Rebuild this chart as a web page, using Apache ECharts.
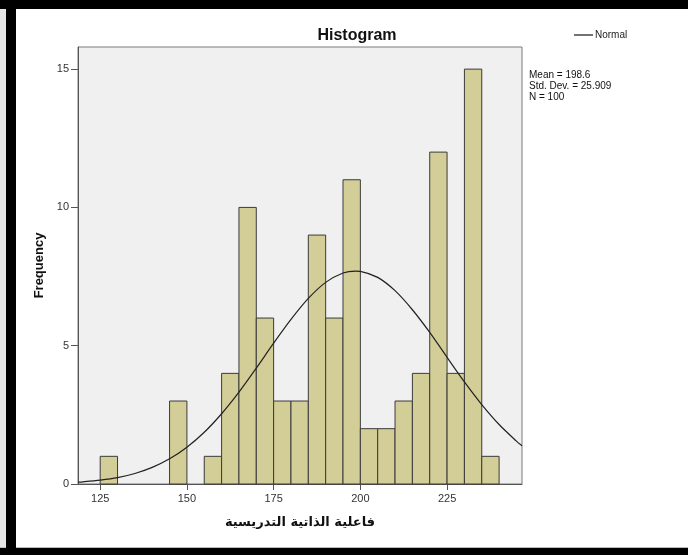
<!doctype html>
<html>
<head>
<meta charset="utf-8">
<script src="https://cdn.jsdelivr.net/npm/echarts@6/dist/echarts.min.js"></script>
<style>
  html, body { margin: 0; padding: 0; background: #fff; }
  #main { width: 688px; height: 555px; }
</style>
</head>
<body>
<div id="main"></div>
<script>
// bin lower edges (width 5) and counts
var binStarts = [125, 130, 135, 140, 145, 150, 155, 160, 165, 170, 175, 180,
                 185, 190, 195, 200, 205, 210, 215, 220, 225, 230, 235];
var binWidth = 5;
var counts = [1, 0, 0, 0, 3, 0, 1, 4, 10, 6, 3, 3,
              9, 6, 11, 2, 2, 3, 4, 12, 4, 15, 1];

// normal curve
var curveX = [118.6, 120, 125, 130, 135, 140, 145, 150, 155, 160, 165, 170, 175,
              180, 185, 190, 195, 198.6, 200, 205, 210, 215, 220, 225, 230, 235,
              240, 245, 246.6];
var curveY = [0.07, 0.08, 0.14, 0.23, 0.38, 0.60, 0.91, 1.33, 1.87, 2.54, 3.32, 4.19, 5.09,
              5.95, 6.71, 7.29, 7.63, 7.70, 7.69, 7.47, 6.99, 6.30, 5.48, 4.58, 3.69, 2.87,
              2.15, 1.55, 1.38];

var xTicks = [125, 150, 175, 200, 225];
var yTicks = [0, 5, 10, 15];
var statsText = ['Mean = 198.6', 'Std. Dev. = 25.909', 'N = 100'];

var barData = binStarts.map(function (s, i) { return [s, s + binWidth, counts[i]]; });
var lineData = curveX.map(function (x, i) { return [x, curveY[i]]; });

var chart = echarts.init(document.getElementById('main'));
var latin = 'Liberation Sans, Arial, sans-serif';

chart.setOption({
  animation: false,
  backgroundColor: '#fff',
  title: {
    text: 'Histogram',
    left: 352,
    top: 23,
    textAlign: 'center',
    textStyle: { fontFamily: latin, fontSize: 16, fontWeight: 'bold', color: '#111' }
  },
  legend: {
    data: [{ name: 'Normal', icon: 'rect' }],
    left: 569,
    top: 25,
    itemWidth: 19,
    itemHeight: 1.5,
    itemGap: 2,
    itemStyle: { color: '#444' },
    textStyle: { fontFamily: latin, fontSize: 10, color: '#222', padding: [0, 0, 0, -3] }
  },
  grid: {
    left: 78, top: 47, right: 166, bottom: 71,
    show: true, backgroundColor: '#f0f0f0', borderColor: '#7a7a7a', borderWidth: 1
  },
  xAxis: {
    type: 'value',
    min: 118.6,
    max: 246.6,
    interval: 25,
    name: 'فاعلية الذاتية التدريسية',
    nameLocation: 'middle',
    nameGap: 32,
    nameTextStyle: { fontFamily: 'DejaVu Sans, Noto Sans, sans-serif', fontSize: 13, fontWeight: 'bold', color: '#111' },
    splitLine: { show: false },
    axisLine: { lineStyle: { color: '#555', width: 1 } },
    axisTick: { customValues: xTicks, length: 6, lineStyle: { color: '#555' } },
    axisLabel: { customValues: xTicks, fontFamily: latin, fontSize: 11, color: '#333', margin: 9 }
  },
  yAxis: {
    type: 'value',
    min: 0,
    max: 15.8,
    interval: 5,
    name: 'Frequency',
    nameLocation: 'middle',
    nameGap: 30,
    nameTextStyle: { fontFamily: latin, fontSize: 13, fontWeight: 'bold', color: '#111' },
    splitLine: { show: false },
    axisLine: { show: true, lineStyle: { color: '#555', width: 1 } },
    axisTick: { show: true, customValues: yTicks, length: 7, lineStyle: { color: '#555' } },
    axisLabel: { customValues: yTicks, fontFamily: latin, fontSize: 11, color: '#333', margin: 9 }
  },
  graphic: [
    { type: 'rect', shape: { x: 0, y: 0, width: 6, height: 555 }, style: { fill: '#e6e6e6' }, z: 100 },
    { type: 'rect', shape: { x: 6, y: 0, width: 10, height: 555 }, style: { fill: '#000' }, z: 101 },
    { type: 'rect', shape: { x: 0, y: 0, width: 688, height: 9 }, style: { fill: '#000' }, z: 101 },
    { type: 'rect', shape: { x: 0, y: 547, width: 688, height: 1 }, style: { fill: '#bbb' }, z: 100 },
    { type: 'rect', shape: { x: 0, y: 548, width: 688, height: 7 }, style: { fill: '#000' }, z: 101 },
    {
      type: 'text', left: 529, top: 70, z: 100,
      style: { text: statsText.join('\n'), font: '10px Liberation Sans, Arial, sans-serif', fill: '#111', lineHeight: 11 }
    }
  ],
  series: [
    {
      type: 'custom',
      name: 'Frequency',
      data: barData,
      encode: { x: [0, 1], y: 2 },
      renderItem: function (params, api) {
        var p0 = api.coord([api.value(0), api.value(2)]);
        var p1 = api.coord([api.value(1), 0]);
        if (api.value(2) <= 0) return null;
        return {
          type: 'rect',
          shape: { x: p0[0], y: p0[1], width: p1[0] - p0[0], height: p1[1] - p0[1] },
          style: { fill: '#d3ce97', stroke: '#3a3a3a', lineWidth: 1 }
        };
      },
      z: 2
    },
    {
      type: 'line',
      name: 'Normal',
      data: lineData,
      smooth: 0.3,
      symbol: 'none',
      lineStyle: { color: '#222', width: 1.2 },
      itemStyle: { color: '#222' },
      z: 3
    }
  ]
});
</script>
</body>
</html>
